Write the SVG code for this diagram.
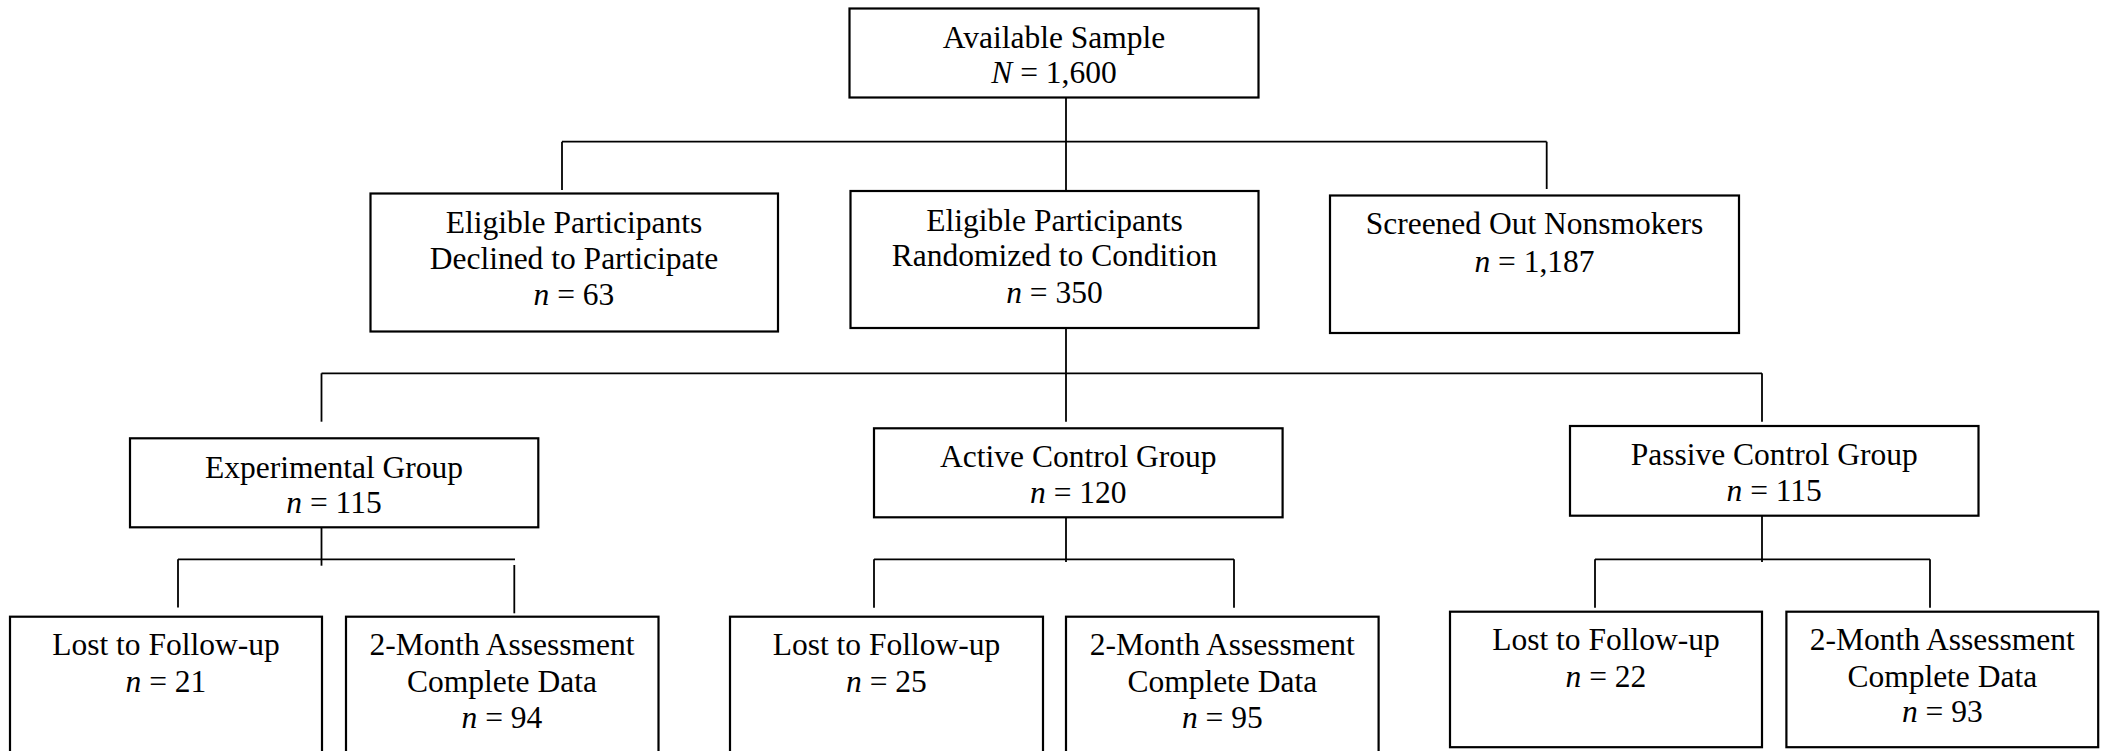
<svg xmlns="http://www.w3.org/2000/svg" width="2107" height="751" viewBox="0 0 2107 751">
<style>
  .box { fill: #ffffff; stroke: #000000; stroke-width: 2.2; }
  .ln { fill: none; stroke: #000000; stroke-width: 1.8; }
  text { font-family: "Liberation Serif", "Times New Roman", serif; font-size: 31.5px; fill: #000000; text-anchor: middle; }
  .i { font-style: italic; }
</style>
<rect x="0" y="0" width="2107" height="751" fill="#ffffff"/>

<g id="connectors">
  <path class="ln" d="M1066,95 V191"/>
  <path class="ln" d="M562,141.7 H1546.7"/>
  <path class="ln" d="M562,141.7 V190"/>
  <path class="ln" d="M1546.7,141.7 V189"/>
  <path class="ln" d="M1066,328 V421.7"/>
  <path class="ln" d="M321.5,373.3 H1762"/>
  <path class="ln" d="M321.5,373.3 V421.7"/>
  <path class="ln" d="M1762,373.3 V421.7"/>
  <path class="ln" d="M321.5,516.7 V565.7"/>
  <path class="ln" d="M178,559.3 H515"/>
  <path class="ln" d="M178,559.3 V607.5"/>
  <path class="ln" d="M514.3,565 V613.3"/>
  <path class="ln" d="M1066,513 V562"/>
  <path class="ln" d="M874,559.3 H1234"/>
  <path class="ln" d="M874,559.3 V607.7"/>
  <path class="ln" d="M1234,559.3 V607.7"/>
  <path class="ln" d="M1762,513 V562"/>
  <path class="ln" d="M1595,559.3 H1930"/>
  <path class="ln" d="M1595,559.3 V607.7"/>
  <path class="ln" d="M1930,559.3 V607.7"/>
</g>

<g id="available">
  <rect class="box" x="849.5" y="8.5" width="409" height="89"/>
  <text x="1054" y="47.7">Available Sample</text>
  <text x="1054" y="83.3"><tspan class="i">N</tspan> = 1,600</text>
</g>

<g id="declined">
  <rect class="box" x="370.5" y="193.5" width="407.5" height="138"/>
  <text x="574" y="233">Eligible Participants</text>
  <text x="574" y="268.5">Declined to Participate</text>
  <text x="574" y="305"><tspan class="i">n</tspan> = 63</text>
</g>

<g id="randomized">
  <rect class="box" x="850.5" y="191" width="408" height="137"/>
  <text x="1054.5" y="230.5">Eligible Participants</text>
  <text x="1054.5" y="266">Randomized to Condition</text>
  <text x="1054.5" y="302.5"><tspan class="i">n</tspan> = 350</text>
</g>

<g id="screened">
  <rect class="box" x="1330" y="195.5" width="409" height="137.5"/>
  <text x="1534.5" y="234">Screened Out Nonsmokers</text>
  <text x="1534.5" y="271.5"><tspan class="i">n</tspan> = 1,187</text>
</g>

<g id="experimental">
  <rect class="box" x="130" y="438.3" width="408.3" height="89"/>
  <text x="334" y="478.3">Experimental Group</text>
  <text x="334" y="513.3"><tspan class="i">n</tspan> = 115</text>
</g>

<g id="active">
  <rect class="box" x="874" y="428.3" width="408.6" height="89"/>
  <text x="1078.3" y="467">Active Control Group</text>
  <text x="1078.3" y="502.7"><tspan class="i">n</tspan> = 120</text>
</g>

<g id="passive">
  <rect class="box" x="1570" y="426" width="408.5" height="89.7"/>
  <text x="1774.2" y="465">Passive Control Group</text>
  <text x="1774.2" y="500.7"><tspan class="i">n</tspan> = 115</text>
</g>

<g id="lost1">
  <rect class="box" x="10" y="616.7" width="312" height="145"/>
  <text x="166" y="655">Lost to Follow-up</text>
  <text x="166" y="691.7"><tspan class="i">n</tspan> = 21</text>
</g>

<g id="complete1">
  <rect class="box" x="346" y="616.7" width="312.5" height="145"/>
  <text x="502" y="655">2-Month Assessment</text>
  <text x="502" y="691.7">Complete Data</text>
  <text x="502" y="728.3"><tspan class="i">n</tspan> = 94</text>
</g>

<g id="lost2">
  <rect class="box" x="730" y="616.7" width="313" height="145"/>
  <text x="886.5" y="655">Lost to Follow-up</text>
  <text x="886.5" y="691.7"><tspan class="i">n</tspan> = 25</text>
</g>

<g id="complete2">
  <rect class="box" x="1066" y="616.7" width="312.6" height="145"/>
  <text x="1222.3" y="655">2-Month Assessment</text>
  <text x="1222.3" y="691.7">Complete Data</text>
  <text x="1222.3" y="728.3"><tspan class="i">n</tspan> = 95</text>
</g>

<g id="lost3">
  <rect class="box" x="1450" y="611.7" width="312" height="135.5"/>
  <text x="1606" y="650">Lost to Follow-up</text>
  <text x="1606" y="686.7"><tspan class="i">n</tspan> = 22</text>
</g>

<g id="complete3">
  <rect class="box" x="1786.4" y="611.7" width="311.8" height="135.5"/>
  <text x="1942.3" y="650">2-Month Assessment</text>
  <text x="1942.3" y="686.7">Complete Data</text>
  <text x="1942.3" y="722">
    <tspan class="i">n</tspan> = 93</text>
</g>
</svg>
